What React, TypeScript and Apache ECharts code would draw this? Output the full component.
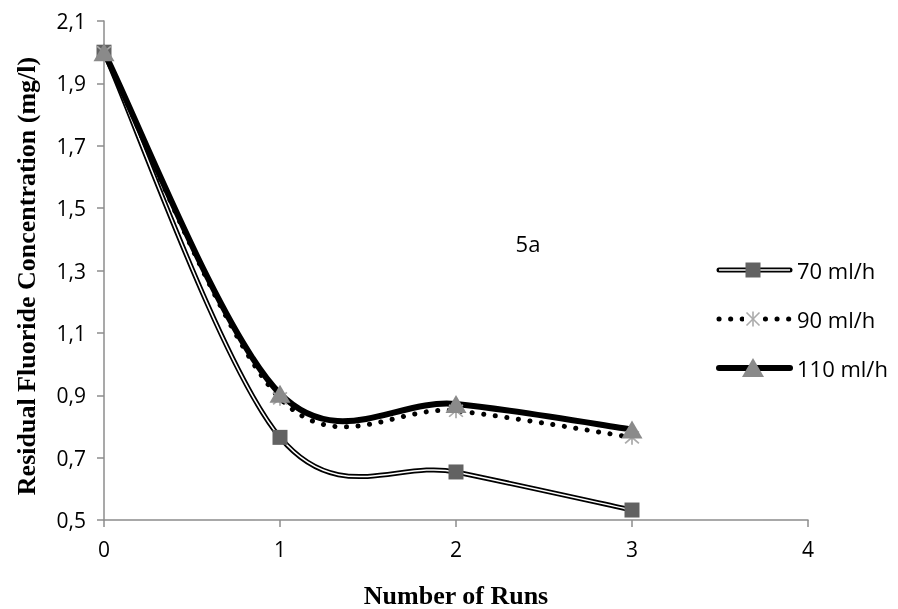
import React, { useEffect, useRef } from "react";
import * as echarts from "echarts";

const runs = [0, 1, 2, 3];
const s70 = [2.0, 0.765, 0.654, 0.532];
const s90 = [2.0, 0.89, 0.85, 0.765];
const s110 = [2.0, 0.905, 0.872, 0.79];
const seriesNames = ["70 ml/h", "90 ml/h", "110 ml/h"];
const xTitle = "Number of Runs";
const yTitle = "Residual Fluoride Concentration (mg/l)";
const panelLabel = "5a";

const asteriskPath =
  "path://M9,0 L11,0 L11,20 L9,20 Z M1.3,2.7 L2.7,1.3 L18.7,17.3 L17.3,18.7 Z M17.3,1.3 L18.7,2.7 L2.7,18.7 L1.3,17.3 Z";

// Catmull-Rom style smooth curve (like a spreadsheet's smoothed line) through given pixel points
const CatmullShape = echarts.graphic.extendShape({
  shape: { points: [] as number[][] },
  buildPath(ctx: any, shape: any) {
    const p = shape.points as number[][];
    const n = p.length;
    if (n < 2) return;
    const at = (j: number) => p[Math.max(0, Math.min(n - 1, j))];
    ctx.moveTo(p[0][0], p[0][1]);
    for (let i = 0; i < n - 1; i++) {
      const p0 = at(i - 1), p1 = at(i), p2 = at(i + 1), p3 = at(i + 2);
      const c1x = p1[0] + (p2[0] - p0[0]) / 6;
      const c1y = p1[1] + (p2[1] - p0[1]) / 6;
      const c2x = p2[0] - (p3[0] - p1[0]) / 6;
      const c2y = p2[1] - (p3[1] - p1[1]) / 6;
      ctx.bezierCurveTo(c1x, c1y, c2x, c2y, p2[0], p2[1]);
    }
  },
});
echarts.graphic.registerShape("catmull", CatmullShape);

const pts = (arr: number[]) => runs.map((r, i) => [r, arr[i]]);

const curveSeries = (values: number[], style: any, z: number) => ({
  type: "custom",
  coordinateSystem: "cartesian2d",
  data: pts(values),
  encode: { x: 0, y: 1 },
  clip: false,
  silent: true,
  z,
  renderItem: (params: any, api: any) => {
    if (params.dataIndex !== 0) return null;
    const points = runs.map((r, i) => api.coord([r, values[i]]));
    return { type: "catmull", shape: { points }, style: { fill: null, ...style } };
  },
});

const markerSeries = (values: number[], symbol: string, size: any, color: string, z: number) => ({
  type: "scatter",
  data: pts(values),
  symbol,
  symbolSize: size,
  itemStyle: { color, opacity: 1 },
  silent: true,
  z,
});

export default function App() {
  const ref = useRef<HTMLDivElement>(null);
  useEffect(() => {
    if (!ref.current) return;
    const chart = echarts.init(ref.current, undefined, { renderer: "svg" });
    const sans = "'Open Sans'";
    const serif = "'Liberation Serif'";
    const lx1 = 719, lx2 = 790, lxm = 753;
    const ly = [270, 319, 368];
    const legendText = (i: number) => ({
      type: "text",
      x: 797,
      y: ly[i],
      style: { text: seriesNames[i], font: `22px ${sans}`, fill: "#000", verticalAlign: "middle", align: "left" },
    });
    const axisGray = "#8c8c8c";
    chart.setOption({
      animation: false,
      grid: { left: 104, right: 90, top: 21, bottom: 89 },
      xAxis: {
        type: "value",
        min: 0,
        max: 4,
        interval: 1,
        axisLine: { lineStyle: { color: axisGray, width: 1.5 } },
        axisTick: { show: true, inside: false, length: 7, lineStyle: { color: axisGray, width: 1.5 } },
        axisLabel: { color: "#000", fontFamily: "Open Sans", fontSize: 21, margin: 18 },
        splitLine: { show: false },
      },
      yAxis: {
        type: "value",
        min: 0.5,
        max: 2.1,
        interval: 0.2,
        axisLine: { show: true, lineStyle: { color: axisGray, width: 1.5 } },
        axisTick: { show: true, inside: false, length: 7, lineStyle: { color: axisGray, width: 1.5 } },
        axisLabel: {
          color: "#000",
          fontFamily: "Open Sans",
          fontSize: 21,
          margin: 18,
          formatter: (v: number) => v.toFixed(1).replace(".", ","),
        },
        splitLine: { show: false },
      },
      series: [
        curveSeries(s70, { stroke: "#000", lineWidth: 5 }, 2),
        curveSeries(s70, { stroke: "#fff", lineWidth: 1.5 }, 3),
        curveSeries(s90, { stroke: "#000", lineWidth: 5, lineDash: [0.1, 11.5], lineCap: "round" }, 4),
        curveSeries(s110, { stroke: "#000", lineWidth: 6 }, 5),
        markerSeries(s70, "rect", 15, "#626262", 6),
        markerSeries(s90, asteriskPath, 15, "#ababab", 7),
        markerSeries(s110, "triangle", [21, 18], "#8a8a8a", 8),
      ],
      graphic: [
        {
          type: "text",
          x: 26,
          y: 276,
          rotation: Math.PI / 2,
          style: { text: yTitle, font: `bold 26px ${serif}`, fill: "#000", align: "center", verticalAlign: "middle" },
        },
        {
          type: "text",
          x: 456,
          y: 595,
          style: { text: xTitle, font: `bold 26px ${serif}`, fill: "#000", align: "center", verticalAlign: "middle" },
        },
        {
          type: "text",
          x: 528,
          y: 243,
          style: { text: panelLabel, font: `22px ${sans}`, fill: "#000", align: "center", verticalAlign: "middle" },
        },
        // legend 70
        { type: "line", shape: { x1: lx1, y1: ly[0], x2: lx2, y2: ly[0] }, style: { stroke: "#000", lineWidth: 5, lineCap: "round" } },
        { type: "line", shape: { x1: lx1, y1: ly[0], x2: lx2, y2: ly[0] }, style: { stroke: "#fff", lineWidth: 1.5 } },
        { type: "rect", shape: { x: lxm - 7.5, y: ly[0] - 7.5, width: 15, height: 15 }, style: { fill: "#626262" } },
        legendText(0),
        // legend 90
        { type: "line", shape: { x1: lx1, y1: ly[1], x2: lx2, y2: ly[1] }, style: { stroke: "#000", lineWidth: 5, lineDash: [0.1, 11.5], lineCap: "round" } },
        { type: "rect", shape: { x: lxm - 9, y: ly[1] - 9, width: 18, height: 18 }, style: { fill: "#fff" } },
        { type: "line", shape: { x1: lxm, y1: ly[1] - 7.5, x2: lxm, y2: ly[1] + 7.5 }, style: { stroke: "#ababab", lineWidth: 1.6 } },
        { type: "line", shape: { x1: lxm - 6.5, y1: ly[1] - 6.5, x2: lxm + 6.5, y2: ly[1] + 6.5 }, style: { stroke: "#ababab", lineWidth: 1.6 } },
        { type: "line", shape: { x1: lxm + 6.5, y1: ly[1] - 6.5, x2: lxm - 6.5, y2: ly[1] + 6.5 }, style: { stroke: "#ababab", lineWidth: 1.6 } },
        legendText(1),
        // legend 110
        { type: "line", shape: { x1: lx1, y1: ly[2], x2: lx2, y2: ly[2] }, style: { stroke: "#000", lineWidth: 6, lineCap: "round" } },
        { type: "polygon", shape: { points: [[lxm, ly[2] - 10], [lxm + 11, ly[2] + 9], [lxm - 11, ly[2] + 9]] }, style: { fill: "#8a8a8a" } },
        legendText(2),
      ],
    });
    return () => chart.dispose();
  }, []);
  return <div ref={ref} style={{ position: "fixed", left: 0, top: 0, width: 898, height: 609 }} />;
}
